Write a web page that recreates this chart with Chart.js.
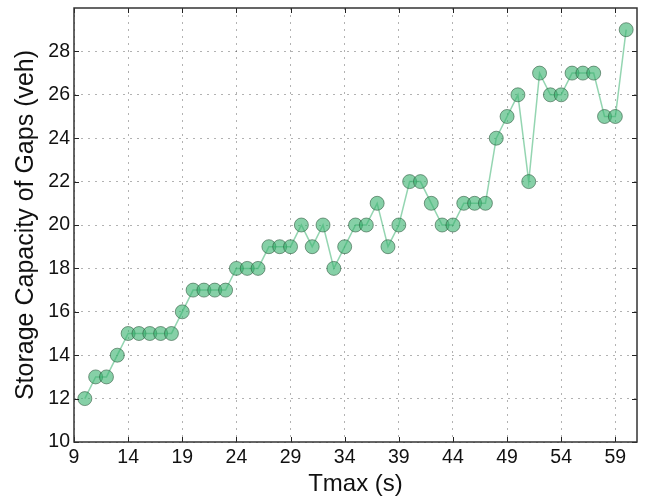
<!DOCTYPE html>
<html>
<head>
<meta charset="utf-8">
<script src="https://cdn.jsdelivr.net/npm/chart.js@4"></script>
<style>
  html, body { margin: 0; padding: 0; background: #fff; }
  #wrap { width: 645px; height: 502px; }
</style>
</head>
<body>
<div id="wrap"><canvas id="chart" width="645" height="502"></canvas></div>
<script>
// Tmax (s) → storage capacity of gaps (veh)
const TMAX = [10, 11, 12, 13, 14, 15, 16, 17, 18, 19, 20, 21, 22, 23, 24, 25, 26,
  27, 28, 29, 30, 31, 32, 33, 34, 35, 36, 37, 38, 39, 40, 41, 42, 43, 44, 45, 46,
  47, 48, 49, 50, 51, 52, 53, 54, 55, 56, 57, 58, 59, 60];
const CAPACITY = [12, 13, 13, 14, 15, 15, 15, 15, 15, 16, 17, 17, 17, 17, 18, 18, 18,
  19, 19, 19, 20, 19, 20, 18, 19, 20, 20, 21, 19, 20, 22, 22, 21, 20, 20, 21, 21,
  21, 24, 25, 26, 22, 27, 26, 26, 27, 27, 27, 25, 25, 29];

const X_TICKS = [9, 14, 19, 24, 29, 34, 39, 44, 49, 54, 59];
const Y_TICKS = [10, 12, 14, 16, 18, 20, 22, 24, 26, 28];

const FONT = "'Liberation Sans', Arial, sans-serif";

// box around plot + inward ticks on all four sides (matplotlib classic look)
const frame = {
  id: "frame",
  afterDatasetsDraw(chart) {
    const { ctx, chartArea: a, scales: { x, y } } = chart;
    ctx.save();
    ctx.strokeStyle = "#222";
    ctx.lineWidth = 1;
    X_TICKS.forEach(v => {
      const px = Math.round(x.getPixelForValue(v)) + 0.5;
      ctx.beginPath();
      ctx.moveTo(px, a.bottom); ctx.lineTo(px, a.bottom - 5);
      ctx.moveTo(px, a.top); ctx.lineTo(px, a.top + 5);
      ctx.stroke();
    });
    Y_TICKS.forEach(v => {
      const py = Math.round(y.getPixelForValue(v)) + 0.5;
      ctx.beginPath();
      ctx.moveTo(a.left, py); ctx.lineTo(a.left + 5, py);
      ctx.moveTo(a.right, py); ctx.lineTo(a.right - 5, py);
      ctx.stroke();
    });
    ctx.lineWidth = 1.5;
    ctx.strokeStyle = "#333";
    ctx.strokeRect(a.left, a.top, a.right - a.left, a.bottom - a.top);
    ctx.restore();
  }
};

new Chart(document.getElementById("chart"), {
  type: "line",
  data: {
    datasets: [{
      data: TMAX.map((t, i) => ({ x: t, y: CAPACITY[i] })),
      borderColor: "rgba(60, 179, 113, 0.55)",
      borderWidth: 1.5,
      backgroundColor: "rgba(60, 179, 113, 0.62)",
      pointBackgroundColor: "rgba(60, 179, 113, 0.62)",
      pointBorderColor: "rgba(40, 80, 55, 0.55)",
      pointBorderWidth: 1,
      pointRadius: 7,
      tension: 0,
      clip: false,
    }],
  },
  options: {
    responsive: false,
    animation: false,
    layout: { padding: { top: 6, right: 8, left: 0, bottom: 0 } },
    plugins: { legend: { display: false }, tooltip: { enabled: false } },
    scales: {
      x: {
        type: "linear",
        min: 9, max: 61,
        afterBuildTicks: s => { s.ticks = X_TICKS.map(v => ({ value: v })); },
        afterFit: s => { s.height = 60; s.paddingLeft = 0; s.paddingRight = 0; },
        grid: { color: "rgba(0,0,0,0.3)", lineWidth: 1, drawTicks: false },
        border: { display: false, dash: [2, 5] },
        ticks: { color: "#111", font: { family: FONT, size: 19.5 }, padding: 4, maxRotation: 0 },
        title: {
          display: true, text: "Tmax (s)", color: "#111",
          font: { family: FONT, size: 24 }, padding: { top: 0, bottom: 3 },
        },
      },
      y: {
        min: 10, max: 30,
        afterBuildTicks: s => { s.ticks = Y_TICKS.map(v => ({ value: v })); },
        afterFit: s => { s.width = 74; s.paddingTop = 0; s.paddingBottom = 0; },
        grid: { color: "rgba(0,0,0,0.3)", lineWidth: 1, drawTicks: false },
        border: { display: false, dash: [2, 5] },
        ticks: { color: "#111", font: { family: FONT, size: 19.5 }, padding: 4 },
        title: {
          display: true, text: "Storage Capacity of Gaps (veh)", color: "#111",
          font: { family: FONT, size: 25 }, padding: { top: 11, bottom: 0 },
        },
      },
    },
  },
  plugins: [frame],
});
</script>
</body>
</html>
